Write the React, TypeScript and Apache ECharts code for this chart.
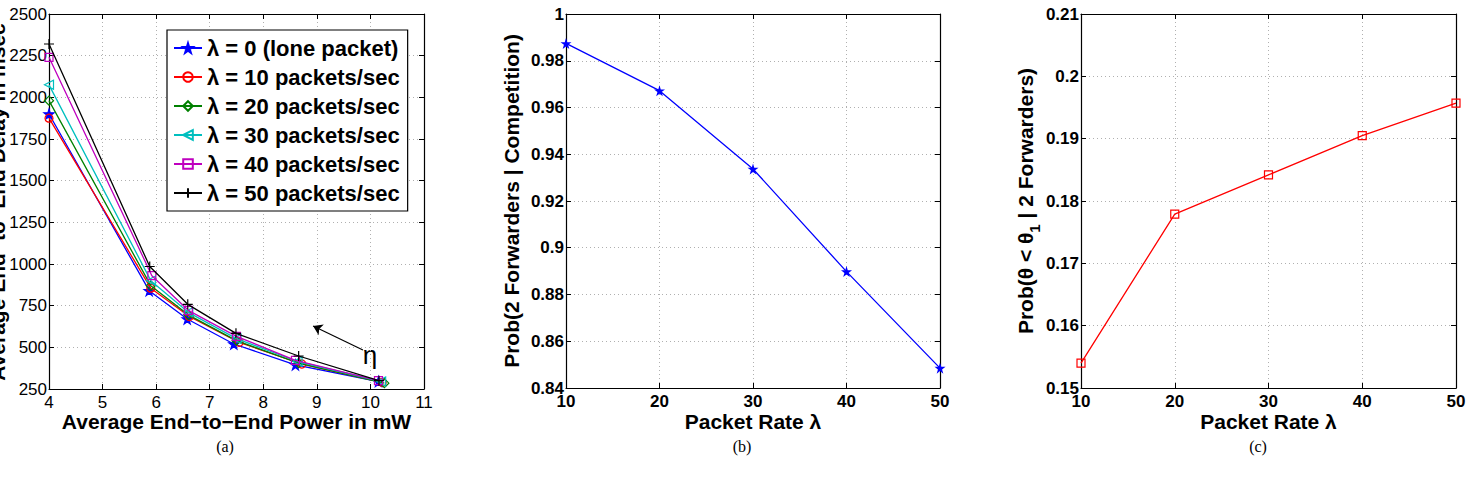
import React, { useEffect, useRef } from "react";
import * as echarts from "echarts";

// Panel (a): Average end-to-end delay vs. power
const seriesNamesA = [
  "λ = 0 (lone packet)",
  "λ = 10 packets/sec",
  "λ = 20 packets/sec",
  "λ = 30 packets/sec",
  "λ = 40 packets/sec",
  "λ = 50 packets/sec",
];
const lambda0 = [[4, 1900], [5.87, 840], [6.58, 670], [7.45, 520], [8.6, 395], [10.15, 295]];
const lambda10 = [[4, 1875], [5.9, 855], [6.62, 685], [7.55, 530], [8.72, 400], [10.22, 290]];
const lambda20 = [[4, 1980], [5.9, 870], [6.6, 695], [7.5, 540], [8.66, 405], [10.26, 285]];
const lambda30 = [[4, 2075], [5.9, 900], [6.6, 710], [7.5, 552], [8.64, 415], [10.2, 295]];
const lambda40 = [[4, 2240], [5.92, 930], [6.6, 722], [7.5, 566], [8.6, 422], [10.15, 300]];
const lambda50 = [[4, 2320], [5.88, 985], [6.59, 758], [7.49, 584], [8.66, 448], [10.16, 300]];
const xTicksA = { min: 4, max: 11, interval: 1 };
const yTicksA = { min: 250, max: 2500, interval: 250 };

// Panel (b)
const packetRates = [10, 20, 30, 40, 50];
const probTwoForwarders = [0.9874, 0.9672, 0.9337, 0.8898, 0.8485];
// Panel (c)
const probTheta = [0.154, 0.1779, 0.1842, 0.1905, 0.1957];

const STAR =
  "path://M50,0 L61,35 L98,35 L68,57 L79,91 L50,70 L21,91 L32,57 L2,35 L39,35Z";
const PLUS = "path://M0,5L10,5M5,0L5,10";
const LEFT_TRI = "path://M0,5L10,0L10,10Z";

const FONT = "Liberation Sans, Arial, Helvetica, sans-serif";
const SERIF = "'Liberation Serif', 'Times New Roman', serif";

export default function App() {
  const ref = useRef<HTMLDivElement>(null);
  useEffect(() => {
    if (!ref.current) return;
    const chart = echarts.init(ref.current, null, { renderer: "svg" });

    const grids = [
      { left: 49, top: 14, width: 375, height: 375 },
      { left: 566, top: 14, width: 374, height: 374 },
      { left: 1081, top: 14, width: 375, height: 374 },
    ];

    const splitLine = { show: true, lineStyle: { color: "#b0b0b0", type: [1, 3] as any, width: 1 } };
    const axisLine = { show: true, lineStyle: { color: "#000", width: 1.2 } };
    const tick = { show: true, inside: true, length: 5, lineStyle: { color: "#000" } };
    const fmt = (v: number) => String(Math.round(v * 10000) / 10000);

    const mkX = (gi: number, r: any, bold: boolean, name: string, nameGap: number) => [
      {
        type: "value", gridIndex: gi, min: r.min, max: r.max, interval: r.interval,
        axisLine, axisTick: tick, splitLine,
        axisLabel: { color: "#000", fontSize: 17, fontFamily: FONT, fontWeight: bold ? "bold" : "normal", margin: 5, formatter: fmt },
        name, nameLocation: "middle", nameGap, nameMoveOverlap: false,
        nameTextStyle: { color: "#000", fontSize: 21, fontWeight: "bold", fontFamily: FONT },
      },
      {
        type: "value", gridIndex: gi, position: "top", min: r.min, max: r.max, interval: r.interval,
        axisLine, axisTick: tick, splitLine: { show: false }, axisLabel: { show: false },
      },
    ];
    const mkY = (gi: number, r: any, bold: boolean, name: any, nameGap: number, rich?: any) => [
      {
        type: "value", gridIndex: gi, min: r.min, max: r.max, interval: r.interval,
        axisLine, axisTick: tick, splitLine,
        axisLabel: { color: "#000", fontSize: 17, fontFamily: FONT, fontWeight: bold ? "bold" : "normal", margin: 2, formatter: fmt },
        name, nameLocation: "middle", nameGap,
        nameTextStyle: { color: "#000", fontSize: 21, fontWeight: "bold", fontFamily: FONT, rich },
      },
      {
        type: "value", gridIndex: gi, position: "right", min: r.min, max: r.max, interval: r.interval,
        axisLine, axisTick: tick, splitLine: { show: false }, axisLabel: { show: false },
      },
    ];

    const xAxis = [
      ...mkX(0, xTicksA, false, "Average End−to−End Power in mW", 22),
      ...mkX(1, { min: 10, max: 50, interval: 10 }, true, "Packet Rate λ", 23),
      ...mkX(2, { min: 10, max: 50, interval: 10 }, true, "Packet Rate λ", 23),
    ];
    const yAxis = [
      ...mkY(0, yTicksA, false, "", 0),
      ...mkY(1, { min: 0.84, max: 1, interval: 0.02 }, true, "Prob(2 Forwarders | Competition)", 44),
      ...mkY(2, { min: 0.15, max: 0.21, interval: 0.01 }, true,
        "{n|Prob(θ < θ}{s|1}{n| | 2 Forwarders)}", 34,
        {
          n: { fontSize: 21, fontWeight: "bold", fontFamily: FONT, color: "#000" },
          s: { fontSize: 15, fontWeight: "bold", fontFamily: FONT, color: "#000", verticalAlign: "bottom", lineHeight: 34 },
        }),
    ];

    const colorsA = ["#0000ff", "#ff0000", "#008000", "#00bfbf", "#bf00bf", "#000000"];
    const symbolsA = [STAR, "circle", "diamond", LEFT_TRI, "rect", PLUS];
    const sizesA = [10, 8, 9, 9, 8, 10];
    const dataA = [lambda0, lambda10, lambda20, lambda30, lambda40, lambda50];

    const seriesA = dataA.map((d, i) => ({
      type: "line",
      name: seriesNamesA[i],
      xAxisIndex: 0,
      yAxisIndex: 0,
      data: d,
      symbol: symbolsA[i],
      symbolSize: sizesA[i],
      showSymbol: true,
      lineStyle: { color: colorsA[i], width: 1.3 },
      itemStyle: {
        color: i === 0 ? colorsA[i] : "rgba(255,255,255,0)",
        borderColor: colorsA[i],
        borderWidth: 1.2,
      },
      z: 3 + i,
      markLine: i === 5 ? {
        silent: true,
        symbol: ["none", "arrow"],
        symbolSize: 9,
        label: { show: false },
        lineStyle: { color: "#000", width: 1.2, type: "solid" },
        data: [[{ coord: [9.86, 484] }, { coord: [8.93, 628] }]],
      } : undefined,
    }));

    const option: any = {
      animation: false,
      backgroundColor: "#fff",
      grid: grids,
      xAxis,
      yAxis,
      legend: {
        show: true,
        orient: "vertical",
        left: 167,
        top: 30,
        data: seriesNamesA,
        backgroundColor: "#fff",
        borderColor: "#000",
        borderWidth: 1.2,
        padding: [7, 8, 7, 6],
        itemGap: 7,
        itemWidth: 28,
        itemHeight: 12,
        textStyle: { color: "#000", fontSize: 22, fontWeight: "bold", fontFamily: FONT, lineHeight: 18 },
      },
      series: [
        ...seriesA,
        {
          type: "line",
          name: "b",
          xAxisIndex: 2,
          yAxisIndex: 2,
          data: packetRates.map((x, i) => [x, probTwoForwarders[i]]),
          symbol: STAR,
          symbolSize: 11,
          lineStyle: { color: "#0000ff", width: 1.3 },
          itemStyle: { color: "#0000ff" },
        },
        {
          type: "line",
          name: "c",
          xAxisIndex: 4,
          yAxisIndex: 4,
          data: packetRates.map((x, i) => [x, probTheta[i]]),
          symbol: "rect",
          symbolSize: 8,
          lineStyle: { color: "#ff0000", width: 1.3 },
          itemStyle: { color: "rgba(255,255,255,0)", borderColor: "#ff0000", borderWidth: 1.2 },
        },
      ],
      graphic: [
        {
          type: "text",
          x: -3,
          y: 202,
          rotation: Math.PI / 2,
          style: {
            text: "Average End−to−End Delay in msec",
            font: `bold 21px ${FONT}`,
            fill: "#000",
            align: "center",
            verticalAlign: "middle",
          },
        },
        {
          type: "text",
          x: 370,
          y: 355,
          style: { text: "η", font: `26px ${FONT}`, fill: "#000", align: "center", verticalAlign: "middle" },
        },
        { type: "text", x: 225, y: 446, style: { text: "(a)", font: `16px ${SERIF}`, fill: "#000", align: "center", verticalAlign: "middle" } },
        { type: "text", x: 742, y: 446, style: { text: "(b)", font: `16px ${SERIF}`, fill: "#000", align: "center", verticalAlign: "middle" } },
        { type: "text", x: 1258, y: 446, style: { text: "(c)", font: `16px ${SERIF}`, fill: "#000", align: "center", verticalAlign: "middle" } },
      ],
    };
    chart.setOption(option);
    return () => chart.dispose();
  }, []);

  return (
    <div
      ref={ref}
      style={{ position: "fixed", left: 0, top: 0, width: 1470, height: 489, background: "#fff" }}
    />
  );
}
